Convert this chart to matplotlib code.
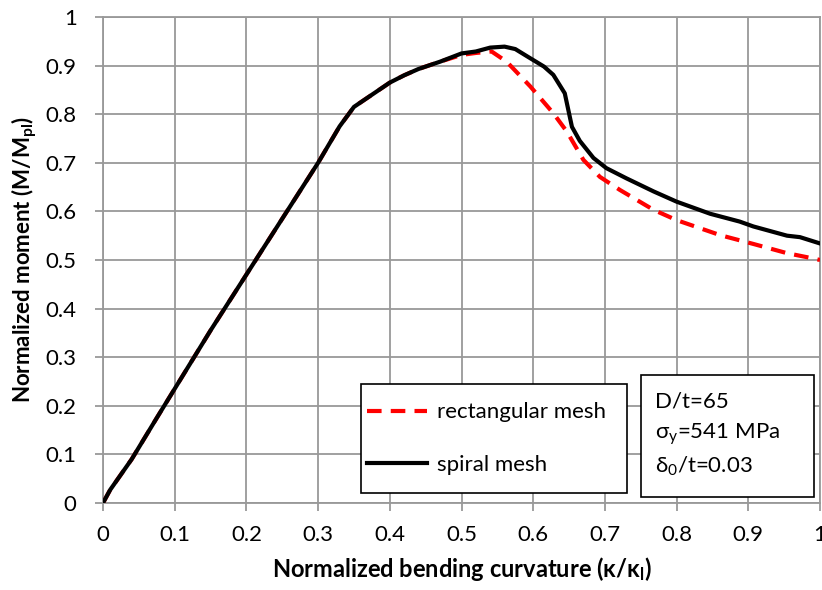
import matplotlib
matplotlib.use("Agg")
import matplotlib.pyplot as plt
from matplotlib.patches import Rectangle

plt.rcParams['font.family'] = ['Lato', 'DejaVu Sans']
plt.rcParams['mathtext.default'] = 'regular'

# Data
x_rect = [0, 0.01, 0.04, 0.075, 0.1, 0.15, 0.2, 0.25, 0.3, 0.33, 0.35, 0.38, 0.4, 0.42, 0.44,
          0.47, 0.5, 0.52, 0.542, 0.563, 0.596, 0.628, 0.647, 0.670, 0.693, 0.721, 0.768,
          0.800, 0.861, 0.907, 0.954, 0.991, 1.0]
y_rect = [0, 0.027, 0.09, 0.175, 0.235, 0.355, 0.47, 0.585, 0.70, 0.775, 0.815, 0.845, 0.865,
          0.88, 0.893, 0.908, 0.922, 0.926, 0.929, 0.908, 0.857, 0.802, 0.764, 0.706, 0.671,
          0.644, 0.603, 0.582, 0.551, 0.533, 0.514, 0.503, 0.500]

x_spiral = [0, 0.01, 0.04, 0.075, 0.1, 0.15, 0.2, 0.25, 0.3, 0.33, 0.35, 0.38, 0.4, 0.42, 0.44,
            0.47, 0.5, 0.52, 0.54, 0.56, 0.575, 0.596, 0.615, 0.628, 0.644, 0.654, 0.665,
            0.684, 0.702, 0.73, 0.768, 0.8, 0.847, 0.888, 0.907, 0.954, 0.972, 1.0]
y_spiral = [0, 0.027, 0.09, 0.175, 0.235, 0.355, 0.47, 0.585, 0.70, 0.775, 0.815, 0.845, 0.865,
            0.88, 0.893, 0.908, 0.925, 0.929, 0.937, 0.939, 0.934, 0.915, 0.898, 0.881, 0.843,
            0.774, 0.745, 0.710, 0.689, 0.668, 0.641, 0.620, 0.595, 0.579, 0.569, 0.550,
            0.547, 0.534]

x_ticks = [0, 0.1, 0.2, 0.3, 0.4, 0.5, 0.6, 0.7, 0.8, 0.9, 1]
y_ticks = [0, 0.1, 0.2, 0.3, 0.4, 0.5, 0.6, 0.7, 0.8, 0.9, 1]
x_labels = ['0', '0.1', '0.2', '0.3', '0.4', '0.5', '0.6', '0.7', '0.8', '0.9', '1']
y_labels = ['0', '0.1', '0.2', '0.3', '0.4', '0.5', '0.6', '0.7', '0.8', '0.9', '1']
info_lines = ['D/t=65', 'σ$_y$=541 MPa', 'δ$_0$/t=0.03']

fig = plt.figure(figsize=(8.22, 5.90), dpi=100)
ax = fig.add_axes([0.1253, 0.1475, 0.8723, 0.8237])

grid_c = '#999999'
ax.plot(x_rect, y_rect, color='#FF0000', lw=3, ls=(0, (3.5, 2.2)), label='rectangular mesh',
        zorder=3)
ax.plot(x_spiral, y_spiral, color='black', lw=3, label='spiral mesh', zorder=4)

ax.set_xlim(0, 1)
ax.set_ylim(0, 1)
ax.set_xticks(x_ticks)
ax.set_xticklabels(x_labels)
ax.set_yticks(y_ticks)
ax.set_yticklabels(y_labels)
ax.grid(True, color=grid_c, lw=1.3)
ax.set_axisbelow(True)
for s in ax.spines.values():
    s.set_color(grid_c)
    s.set_linewidth(1.3)
ax.tick_params(axis='both', direction='out', length=6, width=1.3, color=grid_c,
               labelsize=16)
ax.tick_params(axis='x', pad=10)
ax.tick_params(axis='y', pad=13)

ax.set_xlabel('Normalized bending curvature (κ/κ$_l$)', fontsize=17, fontweight='bold',
              labelpad=7)
ax.set_ylabel('Normalized moment (M/M$_{pl}$)', fontsize=16, fontweight='bold', labelpad=5)

# legend frame
ax.add_patch(Rectangle((0.360, 0.0206), 0.371, 0.224, transform=ax.transAxes, fill=True,
                       facecolor='white', edgecolor='black', lw=1.2, zorder=5))
leg = ax.legend(loc='center left', bbox_to_anchor=(0.362, 0.1326),
                fontsize=16, frameon=False,
                handlelength=2.7, handletextpad=0.45, labelspacing=1.45, borderpad=0.2,
                borderaxespad=0)
leg.set_zorder(6)

# info box
ax.add_patch(Rectangle((0.750, 0.012), 0.242, 0.251, transform=ax.transAxes, fill=True,
                       facecolor='white', edgecolor='black', lw=1.2, zorder=5))
for txt, yy in zip(info_lines, [0.208, 0.142, 0.075]):
    ax.text(0.770, yy, txt, transform=ax.transAxes, fontsize=16, va='center', ha='left',
            zorder=6)

fig.savefig('out.png', dpi=100)
